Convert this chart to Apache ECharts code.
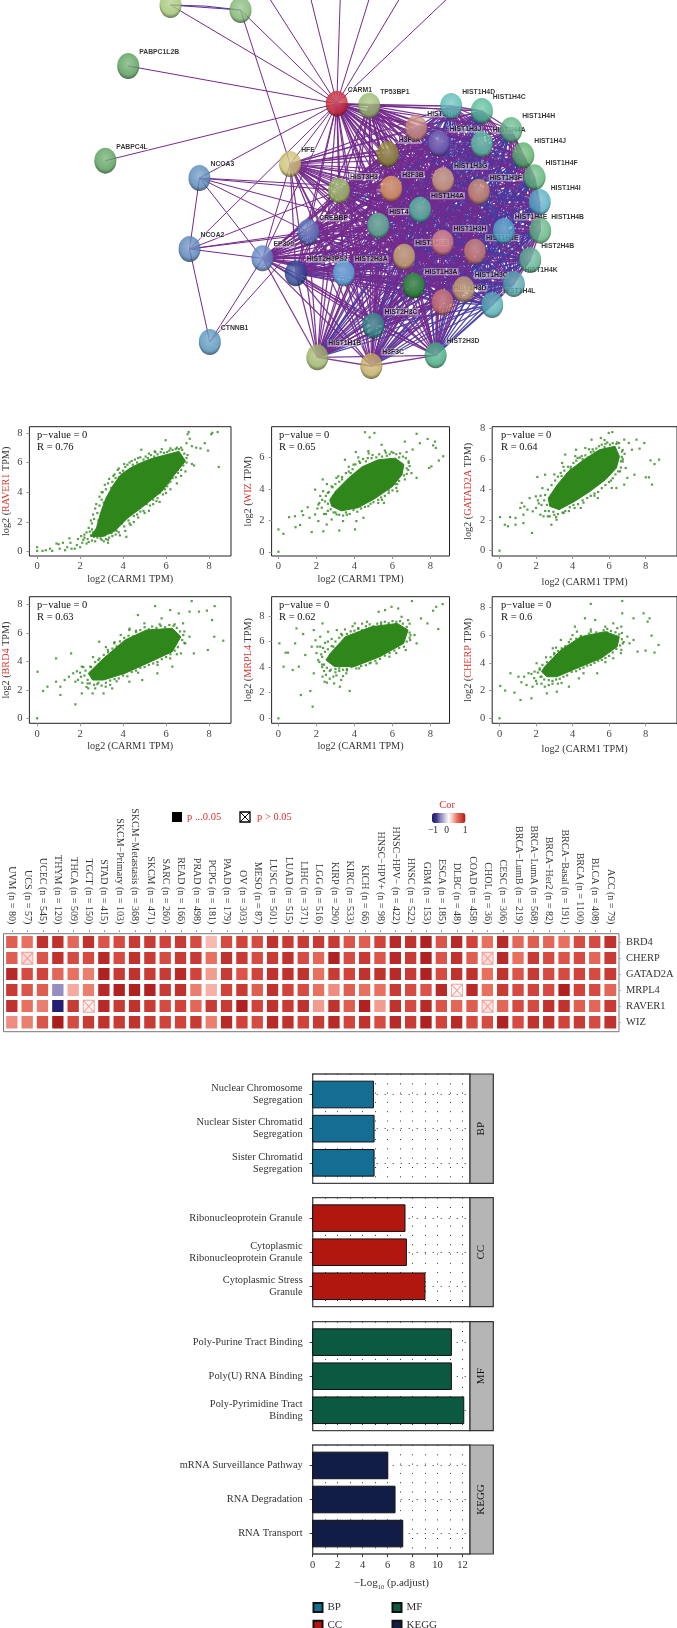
<!DOCTYPE html>
<html><head><meta charset="utf-8">
<script src="https://cdn.jsdelivr.net/npm/echarts@6/dist/echarts.min.js"></script>
<style>html,body{margin:0;padding:0;background:#fff}#c{width:677px;height:1628px}</style></head>
<body><div id="c"></div>
<script>
// ---------- NETWORK (node positions, in reference crop units) ----------
const netNodes = [
['',395,15,'#9cc26c'],['',557,30,'#79b26a'],['PABPC1L2B',297,198,'#4f9a52'],['PABPC4L',244,482,'#4f9a52'],
['CARM1',780,311,'#c8242f'],['TP53BP1',855,317,'#92b566'],['NCOA3',462,534,'#4f83b5'],['HFE',672,492,'#c9bd68'],
['NCOA2',439,747,'#4f7db5'],['EP300',608,775,'#5a7fbf'],['CTNNB1',486,1026,'#4c8db8'],['HIST2H3PS2',685,820,'#24408f'],
['HIST2H3A',796,820,'#5aaedb'],['CREBBP',714,696,'#5675b8'],['HIST3H3',785,572,'#98bc5a'],['H3F3A',898,463,'#8c8a2c'],
['HIST1H3I',964,384,'#c98a78'],['HIST1H3J',1016,430,'#6a5cb0'],['HIST1H4D',1045,318,'#4fb5ae'],['HIST1H4C',1116,333,'#48b58e'],
['HIST2H4A',1116,433,'#55c29c'],['HIST1H4H',1184,390,'#55ae80'],['HIST1H4J',1212,466,'#50ab60'],['HIST1H4F',1238,532,'#52b070'],
['HIST1H4I',1250,606,'#4aa8c0'],['HIST1H4B',1251,692,'#55b078'],['HIST1H4E',1167,693,'#4aa8c8'],['HIST2H4B',1228,780,'#55ad8a'],
['HIST1H4K',1190,852,'#4aa0a8'],['HIST1H4L',1140,915,'#48a8b0'],['HIST1H3G',1026,541,'#d0a078'],['H3F3B',906,566,'#dc9a58'],
['HIST1H3F',1109,575,'#c88a68'],['HIST1H4A',973,629,'#4fb898'],['HIST4',876,677,'#55b58c'],['HIST1H3H',1025,728,'#d88080'],
['HIST1H3B',936,770,'#c8a868'],['HIST1H3E',1100,755,'#c87a6a'],['HIST1H3A',958,857,'#1e8f2a'],['HIST1H3C',1074,868,'#c09a68'],
['HIST1H3D',1025,907,'#c87068'],['HIST2H3C',865,977,'#2a8a80'],['HIST2H3D',1009,1066,'#3aa57a'],['H3F3C',860,1098,'#bfa858'],
['HIST1H1B',735,1072,'#98b060']];
const offEdgeNodes = [['t1',625,-3],['t2',720,-3],['t3',788,-3],['t4',855,-3],['t5',925,-3],['t6',1035,-3]];
const nonHistone = ['','PABPC1L2B','PABPC4L','CARM1','TP53BP1','NCOA3','HFE','NCOA2','EP300','CTNNB1','CREBBP'];
const histHubs = ['CARM1','TP53BP1','HFE','EP300','CREBBP'];
const extraEdges = [['PABPC1L2B','CARM1'],['PABPC4L','CARM1'],['NCOA3','CARM1'],['NCOA3','EP300'],['NCOA3','CREBBP'],['NCOA3','HIST3H3'],
['NCOA3','H3F3B'],['NCOA3','HIST4'],['NCOA3','NCOA2'],['NCOA2','EP300'],['NCOA2','CARM1'],['NCOA2','CREBBP'],['NCOA2','CTNNB1'],['NCOA2','HIST3H3'],['NCOA2','HIST4'],
['CTNNB1','EP300'],['CTNNB1','CREBBP'],['HFE','CARM1'],['HFE','EP300'],['CARM1','TP53BP1'],['CARM1','CREBBP'],['CARM1','EP300'],['EP300','CREBBP'],
['t1','CARM1'],['t2','CARM1'],['t3','CARM1'],['t4','CARM1'],['t5','CARM1'],['t6','CARM1']];

// ---------- SCATTER PANELS. Each has a hand-read outline of the solid, saturated core and hand-read individual dots around it ----------
const xTicksScatter = [0,2,4,6,8];
const raver1Core = [[2.76,1.6],[2.95,2.6],[3.2,3.6],[3.55,4.5],[3.9,5.2],[4.35,5.65],[4.85,6.0],[5.4,6.3],[5.95,6.5],[6.6,6.75],[6.9,6.1],[6.4,5.2],[5.8,4.05],[4.85,2.95],[4.2,2.25],[3.6,1.37],[3.07,1.03],[2.5,1.03]];
const raver1Pts = [[7.05,8.05],[7,7.9],[7.1,7.6],[6.95,7.3],[7.2,7.1],[7.4,7],[7.6,6.95],[7.8,7.3],[7.95,6.8],[8.1,7.9],[8.15,8],[8.4,8.05],[8.45,5.7],[7,6.5],[7.2,5.9],[7.3,5.8],[6.9,5.4],[6.7,5.1],[6.5,4.6],[6.2,4.2],[6.2,5.2],[4.85,6.86],[5.98,7.5],[5.47,6.75],[0,0.3],[0,0.05],[0.25,0.05],[0.4,0.1],[0.6,0.2],[0.7,0.05],[0.9,0.55],[1,0.5],[1.05,0.2],[1.2,0.6],[1.3,0.1],[1.4,0.3],[1.5,0.9],[1.55,0.6],[1.6,0.2],[1.75,0.2],[1.85,0.45],[1.9,0.85],[2,0.3],[2.1,0.6],[2.15,0.8],[2.2,0.95],[2.3,0.55],[2.4,0.65],[2.5,1.1],[2.55,0.75],[2.6,1.3],[2.7,0.7],[2.8,0.95],[2.95,0.9],[3.1,0.7],[3.2,0.85],[3.35,0.95],[3.5,1.05],[3.7,1.4],[4.1,1.4],[4.15,1],[4.3,1.9],[4.7,2.3],[5,2.6],[5.4,3.2],[5.6,3.6],[6.1,4.6],[6.35,5.6],[2.8,2.6],[2.65,2.2],[2.4,1.6],[2.3,1.3],[2.9,3.1],[3,3.5],[3.2,4.2],[3.5,4.7],[3.75,5.5],[4.1,5.7],[4.4,6.1],[4.7,6.3],[5.2,6.6],[5.5,6.7],[5.8,6.9],[6.2,6.95],[6.5,7],[6.7,7],[3.3,0.6],[3.85,1.1],[4.5,2.0],[5.2,2.75],[5.7,3.35],[6.0,3.95],[6.55,5.3],[3.05,4],[3.55,5.1]];
const raver1Fringe = [[2.55,1.9],[2.6,2.5],[2.7,2.9],[2.75,3.2],[2.85,2.1],[2.9,3.7],[3,4],[3.1,3.3],[3.15,4.5],[3.3,4.6],[3.35,4.9],[3.45,4.3],[3.6,5.2],[3.65,4.95],[3.8,5.6],[3.85,5.3],[4,5.45],[4.05,5.9],[4.2,5.85],[4.3,6],[4.45,5.85],[4.55,6.2],[4.65,6],[4.8,6.35],[4.95,6.2],[5.05,6.4],[5.15,6.3],[5.3,6.5],[5.45,6.4],[5.6,6.55],[5.75,6.7],[5.9,6.65],[6.05,6.7],[6.15,6.8],[6.3,6.85],[6.45,6.9],[6.6,6.9],[6.75,6.85],[6.85,6.6],[6.95,6.3],[6.95,6],[6.8,5.8],[6.7,5.5],[6.55,5.5],[6.45,5],[6.3,4.95],[6.2,4.7],[6.05,4.4],[5.95,4.2],[5.85,3.85],[5.7,3.95],[5.55,3.4],[5.4,3.5],[5.25,3.1],[5.1,3.2],[4.95,2.75],[4.8,2.7],[4.65,2.5],[4.5,2.4],[4.35,1.8],[4.25,2.1],[4.05,1.7],[3.95,1.9],[3.8,1.3],[3.65,1.15],[3.45,1.25],[3.3,0.8],[3.15,1.1],[3,0.8],[2.85,1.15],[2.65,1],[2.45,1.35],[2.2,1.15],[2.05,1.05],[2.35,0.85],[2.55,1.5],[3.8,5],[2.5,2.1]];
const wizCore = [[2.7,3.3],[3,3.85],[3.7,4.7],[4.4,5.4],[5.25,5.85],[6.15,5.95],[6.6,5.55],[6.5,4.9],[6,4.15],[5.1,3.4],[4.2,2.8],[3.3,2.6],[2.8,2.9]];
const wizPts = [[0,0],[0,1.42],[0.26,1.14],[0.56,2.2],[0.87,2.26],[0.9,1.56],[1.14,1.7],[1.23,2.58],[1.3,2.33],[1.54,2.83],[1.63,2.16],[1.75,1.25],[1.93,3.95],[2.33,4.6],[2.1,1.95],[2.36,1.3],[1.93,2.37],[2.28,2.8],[2.54,1.73],[2.8,2.05],[3.06,2.37],[3.2,1.35],[3.4,1.95],[4.03,1.42],[4.1,1.95],[4.47,2.16],[2.6,3.74],[2.8,4.16],[3.15,4.8],[3.5,5.85],[3.95,5.54],[4.07,6.34],[4.55,7.6],[5.05,7.55],[4.8,7.27],[5.43,6.8],[4.73,6.4],[5.6,6.43],[6.05,6.28],[6.65,7],[6.74,6.34],[7.27,7.5],[7.06,6.5],[7.44,6.9],[7.85,7.17],[8.14,6.76],[8.28,6.6],[8.24,7],[8.67,6.07],[8.44,5.8],[8.05,5.43],[7.93,5.33],[7.27,4.7],[7,5],[6.83,5.2],[6.65,4.6],[6.2,4.06],[5.8,3.74],[5.25,3.1],[4.73,2.9],[5.43,5.54],[2.3,3.3],[2.1,3.0],[2.5,2.4],[2.9,2.5],[3.6,2.35],[3.35,4.6],[3.8,5.0],[4.3,5.65],[4.9,5.95],[5.7,6.1],[6.35,6.0],[6.85,5.65],[6.75,4.95],[6.25,4.3],[5.4,3.45]];
const wizFringe = [[2.45,3.2],[2.5,3.55],[2.6,3.05],[2.65,3.8],[2.75,2.7],[2.85,4.1],[3,2.5],[3,4.3],[3.2,2.35],[3.2,4.45],[3.35,4.75],[3.4,2.3],[3.55,2.5],[3.55,5],[3.7,5.1],[3.75,2.4],[3.9,5.25],[3.95,2.65],[4.05,5.55],[4.15,2.55],[4.25,5.75],[4.35,2.75],[4.45,5.9],[4.55,2.85],[4.6,5.75],[4.7,5.95],[4.85,3.05],[4.95,6.15],[5,3.15],[5.15,6],[5.25,3.3],[5.3,6.2],[5.45,6.05],[5.45,3.3],[5.6,3.55],[5.65,6.3],[5.8,3.9],[5.85,6.2],[5.95,6.35],[6,3.9],[6.15,4.3],[6.2,6.2],[6.35,4.5],[6.4,6.25],[6.55,6.05],[6.6,4.85],[6.7,5.95],[6.75,5.3],[6.85,5.75],[6.9,5.45],[2.2,3.55],[2.35,3.85],[2.55,4.3],[2.15,3.1],[2.05,2.75],[2.6,2.6],[2.4,2.4],[3.05,4.7],[3.7,5.4],[4.2,6],[4.75,6.25],[6.25,3.85],[5.55,3.1]];
const gatad2aCore = [[2.67,3.45],[3.17,4.33],[3.77,5.2],[4.62,5.97],[5.47,6.62],[6.32,6.85],[6.57,6.18],[6.4,5.42],[5.8,4.65],[4.96,3.89],[4.11,3.23],[3.26,2.69],[2.75,2.91]];
const gatad2aPts = [[0,0],[0.03,2.2],[0.29,1.7],[0.58,2.2],[0.88,2.14],[0.46,1.6],[0.88,1.7],[1.22,3.13],[1.14,2.8],[1.36,2.9],[1.31,2.36],[1.53,2.69],[1.31,1.81],[1.78,1.16],[1.65,3.45],[1.99,3.56],[2.07,4.83],[2.5,4.98],[1.82,2.58],[2.24,2.36],[2.41,2.25],[2.84,1.7],[3.12,2.03],[3.51,2.47],[2.75,2.25],[3.43,5.75],[4.19,6.62],[4.7,6.73],[5.04,7.28],[5.98,7.72],[6.18,7.78],[5.55,7.39],[6.83,7.28],[7.08,7.06],[7.5,7.28],[7.93,7.06],[7.67,6.69],[7.25,6.62],[8.27,5.92],[8.74,5.97],[8.49,5.68],[8.18,4.81],[8.01,4.81],[8.35,4.33],[7.39,4.98],[7,4.77],[6.83,4.33],[6.4,4.11],[6.15,4.11],[5.38,3.45],[4.45,2.8],[4.11,2.8],[3.6,6.3],[4.28,6.08],[6.91,5.42],[6.66,5.86],[2.3,3.0],[2.1,3.3],[2.5,2.6],[3,2.35],[3.8,2.6],[3.4,4.9],[3.9,5.5],[4.5,6.2],[5.1,6.65],[5.8,7.0],[6.45,7.1],[6.75,6.6],[6.75,6],[6.6,5.2],[6.1,4.6],[5.2,3.6],[4.6,3.15]];
const gatad2aFringe = [[2.45,3.3],[2.5,3.65],[2.6,3],[2.65,4],[2.7,2.6],[2.85,4.3],[2.95,2.55],[3.05,4.6],[3.2,2.4],[3.2,4.85],[3.35,5.1],[3.45,2.5],[3.55,5.25],[3.6,2.6],[3.75,5.5],[3.85,2.85],[3.9,5.35],[4.05,5.75],[4.05,3],[4.2,5.9],[4.3,3.05],[4.4,6.1],[4.55,6],[4.55,3.3],[4.7,6.25],[4.8,3.45],[4.85,6.1],[5,6.45],[5,3.6],[5.15,6.5],[5.2,3.75],[5.3,6.7],[5.4,3.85],[5.45,6.85],[5.6,6.95],[5.6,4.1],[5.75,6.8],[5.8,4.3],[5.9,7.1],[6,4.5],[6.05,6.95],[6.2,7.05],[6.2,4.75],[6.35,5],[6.4,7],[6.5,5.2],[6.55,6.75],[6.65,5.45],[6.7,6.5],[6.75,5.85],[6.7,6.15],[6.85,6.35],[2.15,3.1],[2.25,3.6],[2.0,2.8],[2.35,4.1],[2.65,2.25],[3.1,2.2],[3,5],[3.5,5.5],[4.15,6.2],[4.9,6.65],[5.75,7.25],[6.55,7.05]];
const brd4Core = [[2.38,3.16],[3.09,4.21],[4.09,5.5],[5.09,6.2],[6.29,6.32],[6.69,5.73],[6.29,4.68],[5.29,3.98],[4.09,3.16],[3.09,2.69],[2.58,2.69]];
const brd4Pts = [[0,0],[0.02,3.27],[0.28,1.92],[0.48,2.22],[0.88,4.21],[1.08,2.22],[1.08,1.64],[1.58,4.56],[1.68,3.16],[1.78,0.98],[1.48,2.92],[1.78,2.57],[2.04,2.92],[2.08,1.75],[2.38,2.1],[2.58,1.75],[3.09,1.75],[3.19,2.22],[3.49,2.1],[4.29,2.57],[4.89,2.69],[5.59,3.16],[6.29,3.63],[2.89,5.38],[3.59,5.26],[4.29,6.2],[4.69,7.25],[5.49,7.88],[6.19,7.6],[5.79,7.02],[6.59,7.37],[7.19,8.23],[7.09,7.49],[6.79,6.67],[7.53,7.49],[7.9,7.56],[8.26,7.88],[8.14,6.9],[8.24,5.73],[8.66,5.45],[7.94,4.8],[7.29,4.56],[7.09,5.73],[6.89,5.26],[6.69,4.56],[6.19,4.21],[3.29,3.86],[2.48,3.63],[0.88,2.57],[1.28,2.69],[2.08,3.63],[3.89,5.85],[4.99,6.67],[3.29,4.8],[2.1,2.5],[2.35,2.45],[2.8,2.4],[3.7,2.6],[4.7,3.2],[5.6,3.75],[6.5,4.5],[6.85,5.3],[6.85,6.1],[6.4,6.6],[5.7,6.6],[4.6,6.15],[3.6,5.35],[2.85,4.1]];
const brd4Fringe = [[2.2,3],[2.25,3.35],[2.35,2.7],[2.5,3.6],[2.45,2.45],[2.65,2.35],[2.7,3.95],[2.85,2.5],[2.9,4.2],[3,2.3],[3.1,4.45],[3.2,2.5],[3.3,4.65],[3.4,2.65],[3.5,4.9],[3.6,2.75],[3.7,5.05],[3.8,2.8],[3.85,5.4],[4,3],[4.05,5.65],[4.2,2.95],[4.25,5.8],[4.4,3.25],[4.45,5.75],[4.6,6.05],[4.6,3.35],[4.8,6.2],[4.8,3.55],[5,6.4],[5,3.6],[5.2,6.25],[5.2,3.75],[5.35,6.45],[5.4,3.85],[5.55,6.35],[5.6,3.95],[5.75,6.5],[5.8,4.15],[5.95,6.4],[6,4.3],[6.15,6.55],[6.2,4.5],[6.35,6.5],[6.4,4.75],[6.5,6.35],[6.55,5],[6.65,6.1],[6.75,5.5],[6.8,5.85],[2,3.2],[1.85,3.3],[1.9,2.7],[2.15,3.6],[2.3,2.2],[2.7,2.1],[3.4,2.35],[2.6,4.3],[3.2,5],[4.3,6.3]];
const mrpl4Core = [[2.73,5.08],[3.52,6.38],[4.89,7.16],[6.25,7.42],[6.82,6.9],[6.59,5.86],[5.34,4.82],[3.98,4.04],[2.95,4.04],[2.5,4.56]];
const mrpl4Pts = [[0,0],[0.05,5.86],[0.38,5.13],[0.5,5.13],[0.27,4.04],[0.88,5.86],[0.75,3.78],[1.18,1.82],[1.07,4.04],[1.41,4.95],[1.3,6.59],[0.95,7.03],[1.68,2.14],[1.8,0.91],[1.86,6.9],[2.2,6.38],[2.09,4.56],[1.86,3.52],[2.43,2.86],[2.55,2.79],[2.32,3.26],[2.89,3.26],[3.23,2.47],[2.93,2.73],[3.75,2.14],[3.57,3.52],[4.25,3.91],[5.16,4.3],[5.84,4.82],[6.7,5.34],[7.16,6.51],[7.27,5.86],[6.93,6.12],[3.07,6.9],[2.61,6.77],[4.02,7.42],[5.27,8.33],[5.95,8.72],[5.61,8.46],[6.3,8.59],[7.02,9.17],[7.5,7.81],[7.84,7.42],[8.14,8.41],[8.3,8.72],[8.64,8.93],[8.41,6.98],[6.82,7.68],[6.48,7.94],[4.66,7.55],[2.89,5.6],[1.75,5.6],[2.32,7.42],[2.3,4.2],[2.4,3.7],[2.7,3.7],[3,3.6],[3.4,3.3],[3.2,3.9],[3.6,3.75],[2.25,5],[2.2,5.6],[2.45,5.9],[2.8,6.2],[3.3,6.6],[4.2,7],[5.4,7.5],[6.9,7.4],[6.95,6.5],[6.2,5.1],[4.8,4.3]];
const mrpl4Fringe = [[2.4,4.2],[2.3,4.8],[2.45,5.2],[2.55,3.95],[2.6,5.4],[2.75,3.8],[2.8,5.65],[3,3.85],[3,6],[3.2,3.7],[3.2,6.3],[3.35,6.5],[3.4,3.8],[3.6,3.85],[3.6,6.6],[3.8,6.8],[3.85,4],[4,6.85],[4.1,3.9],[4.2,7.05],[4.35,4.1],[4.4,6.9],[4.6,4.15],[4.6,7.2],[4.8,7.35],[4.85,4.35],[5,7.2],[5.1,4.5],[5.2,7.4],[5.35,4.65],[5.4,7.35],[5.6,7.55],[5.6,4.9],[5.8,7.45],[5.85,5.1],[6,7.6],[6.1,5.3],[6.2,7.55],[6.35,5.5],[6.4,7.6],[6.55,7.4],[6.6,5.6],[6.75,7.15],[6.75,6],[6.9,6.7],[6.9,6.3],[2.15,4.4],[2.0,5.1],[2.05,5.6],[2.3,4],[2.5,3.4],[2.7,3.1],[3.05,3.35],[3.3,3],[2.6,6],[3.5,6.95],[4.4,7.4],[3.9,7.2],[2.35,5.5],[1.95,6.1]];
const cherpCore = [[2.48,3.73],[3.36,4.93],[4.46,5.89],[5.79,6.25],[6.56,5.89],[6.45,5.17],[5.57,4.33],[4.24,3.61],[3.14,3],[2.59,3],[2.3,3.37]];
const cherpPts = [[0,0],[0.04,2.33],[0.31,2],[0.82,1.85],[0.6,3.25],[1.04,3],[1.15,1.32],[1.48,2.4],[1.75,1.44],[1.59,3.25],[1.92,3.37],[2.25,3],[1.81,2.28],[2.48,2.28],[2.59,1.8],[3.14,1.92],[3.8,2.28],[4.35,2.88],[5.35,3.25],[6.23,4.33],[6.67,4.93],[7.34,5.65],[7.56,4.81],[8,4.88],[8.49,4.74],[8.71,5.29],[8.33,5.96],[8.11,6.97],[8.22,7.21],[7.89,7.57],[7.34,7.21],[6.72,7.57],[6.67,6.61],[6.72,8.46],[5,8.25],[4.68,7.21],[5.24,7.09],[4.24,6.25],[3.36,5.65],[2.92,5.05],[2.03,3.97],[6.23,6.85],[5.79,6.61],[7,5.89],[7.12,5.41],[3.14,4.45],[4.13,6.61],[1.2,2.6],[1.35,3],[2.0,2.7],[2.2,3.5],[2.9,2.5],[3.4,2.55],[4.6,3.25],[5.8,4.05],[6.65,4.7],[6.8,5.5],[6.7,6.15],[5.9,6.45],[5,6.25],[3.9,5.7],[3,4.7]];
const cherpFringe = [[2.1,3.3],[2.2,3.6],[2.3,3],[2.35,3.85],[2.45,2.8],[2.6,4.05],[2.7,2.75],[2.8,4.4],[2.9,2.7],[3,4.6],[3.1,2.8],[3.2,4.85],[3.3,2.85],[3.4,5.05],[3.5,3],[3.6,5.2],[3.7,3.1],[3.8,5.5],[3.95,3.35],[4,5.4],[4.2,5.75],[4.2,3.4],[4.4,3.55],[4.45,5.95],[4.6,3.65],[4.7,5.85],[4.8,3.8],[4.9,6.1],[5,3.85],[5.1,5.95],[5.2,4],[5.3,6.2],[5.4,4.15],[5.5,6.1],[5.6,4.2],[5.7,6.35],[5.8,4.35],[5.9,6.2],[6,4.5],[6.1,6.3],[6.2,4.75],[6.35,6.2],[6.4,5],[6.55,6.05],[6.6,5.25],[6.7,5.7],[6.75,5.4],[1.9,2.9],[1.75,3.2],[2.05,2.5],[2.3,2.5],[2.7,2.4],[3.2,2.5],[2.55,4.4],[3.1,5.1],[4,6],[5,6.4],[6.45,6.5]];
const scatterPanels = [
 {gene:'RAVER1',core:raver1Core,pts:raver1Pts.concat(raver1Fringe),r:'0.76',x:[29.4,231],y:[426.7,556],xr:[-0.36,9.02],yr:[-0.29,8.41],yTicks:[0,2,4,6,8],nx:18,ny:18},
 {gene:'WIZ',core:wizCore,pts:wizPts.concat(wizFringe),r:'0.65',x:[271.6,449.5],y:[426.7,556],xr:[-0.36,9],yr:[-0.27,7.95],yTicks:[0,2,4,6],nx:18,ny:18},
 {gene:'GATAD2A',core:gatad2aCore,pts:gatad2aPts.concat(gatad2aFringe),r:'0.64',x:[492.2,690],y:[426.7,556],xr:[-0.4,9.72],yr:[-0.35,8.13],yTicks:[0,2,4,6,8],nx:21,ny:19},
 {gene:'BRD4',core:brd4Core,pts:brd4Pts.concat(brd4Fringe),r:'0.63',x:[29.4,231],y:[596.7,723.3],xr:[-0.36,9.02],yr:[-0.35,8.54],yTicks:[0,2,4,6,8],nx:18,ny:18},
 {gene:'MRPL4',core:mrpl4Core,pts:mrpl4Pts.concat(mrpl4Fringe),r:'0.62',x:[271.6,449.5],y:[596.7,723.3],xr:[-0.36,9],yr:[-0.39,9.51],yTicks:[0,2,4,6,8],nx:18,ny:18},
 {gene:'CHERP',core:cherpCore,pts:cherpPts.concat(cherpFringe),r:'0.6',x:[492.2,690],y:[596.7,723.3],xr:[-0.4,9.72],yr:[-0.36,8.77],yTicks:[0,2,4,6,8],nx:21,ny:19}];

// ---------- HEATMAP ----------
const cancerTypes = ['UVM (n = 80)','UCS (n = 57)','UCEC (n = 545)','THYM (n = 120)','THCA (n = 509)','TGCT (n = 150)','STAD (n = 415)','SKCM−Primary (n = 103)','SKCM−Metastasis (n = 368)','SKCM (n = 471)','SARC (n = 260)','READ (n = 166)','PRAD (n = 498)','PCPG (n = 181)','PAAD (n = 179)','OV (n = 303)','MESO (n = 87)','LUSC (n = 501)','LUAD (n = 515)','LIHC (n = 371)','LGG (n = 516)','KIRP (n = 290)','KIRC (n = 533)','KICH (n = 66)','HNSC−HPV+ (n = 98)','HNSC−HPV− (n = 422)','HNSC (n = 522)','GBM (n = 153)','ESCA (n = 185)','DLBC (n = 48)','COAD (n = 458)','CHOL (n = 36)','CESC (n = 306)','BRCA−LumB (n = 219)','BRCA−LumA (n = 568)','BRCA−Her2 (n = 82)','BRCA−Basal (n = 191)','BRCA (n = 1100)','BLCA (n = 408)','ACC (n = 79)'];
const heatGenes = ['BRD4','CHERP','GATAD2A','MRPL4','RAVER1','WIZ'];
const corBRD4 = [.6,.5,.85,.85,.55,.85,.65,.7,.8,.8,.75,.8,.7,.25,.7,.75,.7,.85,.8,.8,.8,.8,.65,.6,.75,.9,.85,.95,.65,.9,.75,.5,.9,.55,.6,.55,.5,.7,.7,.85];
const corCHERP = [.6,.12,.65,.85,.7,.7,.9,.7,.85,.8,.7,.8,.8,.5,.85,.8,.7,.8,.85,.7,.55,.95,.7,.8,.65,.9,.8,.95,.65,.85,.6,.12,.9,.5,.8,.7,.65,.7,.55,.8];
const corGATAD2A = [.9,.7,.75,.55,.5,.45,.95,.8,.85,.8,.8,.9,.75,.35,.8,.65,.75,.85,.85,.85,.5,.8,.75,.85,.85,.9,.8,.95,.7,.85,.85,.5,.85,.65,.8,.7,.7,.75,.7,.8];
const corMRPL4 = [.8,.65,.6,-.45,.3,.45,.9,.95,.95,.95,.8,.85,.45,.28,.75,.8,.6,.85,.75,.7,.5,.4,.6,.5,.5,.8,.7,.65,.9,.03,.9,.5,.8,.7,.75,.7,.95,.75,.7,.55];
const corRAVER1 = [.85,.5,.45,-.95,.8,.05,.9,.8,.85,.8,.7,.75,.55,.8,.8,.95,.75,.85,.8,.85,.35,.85,.6,.95,.35,.85,.7,.9,.65,.55,.6,.1,.55,.7,.7,.85,.85,.6,.55,.8];
const corWIZ = [.4,.45,.65,.98,.7,.8,.85,.8,.85,.8,.75,.75,.8,.45,.9,.75,.7,.9,.85,.75,.8,.9,.75,.85,.7,.9,.8,.95,.75,.9,.7,.7,.95,.7,.85,.85,.75,.8,.7,.85];
const corRows = [corBRD4,corCHERP,corGATAD2A,corMRPL4,corRAVER1,corWIZ];
const notSignificant = [[1,1],[31,1],[29,3],[5,4],[31,4]];
const corStops = ['#1f1a6e','#3a3483','#8a80bc','#c5c0de','#ffffff','#f8b9b0','#e8705f','#d0423a','#a81a1b'];

// ---------- ENRICHMENT BARS ----------
const facets = [
 {name:'BP',color:'#146e94',terms:['Nuclear Chromosome\nSegregation','Nuclear Sister Chromatid\nSegregation','Sister Chromatid\nSegregation'],vals:[4.87,4.92,4.92],y:[1074,1183.3]},
 {name:'CC',color:'#b2170f',terms:['Ribonucleoprotein Granule','Cytoplasmic\nRibonucleoprotein Granule','Cytoplasmic Stress\nGranule'],vals:[7.4,7.51,9],y:[1197.7,1306.7]},
 {name:'MF',color:'#0a5940',terms:['Poly-Purine Tract Binding','Poly(U) RNA Binding','Poly-Pyrimidine Tract\nBinding'],vals:[11.12,11.12,12.11],y:[1321.7,1430.7]},
 {name:'KEGG',color:'#121d45',terms:['mRNA Surveillance Pathway','RNA Degradation','RNA Transport'],vals:[6.02,6.6,7.22],y:[1445,1554]}];
const barTicks = [0,2,4,6,8,10,12];

// ---------- BUILD ----------
const SERIF = '"Liberation Serif","DejaVu Serif",serif';
const SANS = '"Liberation Sans",Arial,sans-serif';
const grid=[],xAxis=[],yAxis=[],series=[],graphic=[];
function addGrid(g,x,y){grid.push(g);xAxis.push(Object.assign({gridIndex:grid.length-1},x));yAxis.push(Object.assign({gridIndex:grid.length-1},y));return grid.length-1;}
function shade(hex,f){const n=parseInt(hex.slice(1),16);const c=[n>>16,(n>>8)&255,n&255].map(v=>Math.round(f>0?v+(255-v)*f:v*(1+f)));return 'rgb('+c.join(',')+')';}
function txt(x,y,text,fill,size,extra){graphic.push({type:'text',x,y,silent:true,style:Object.assign({text,fill:fill||'#111',font:(size||10.5)+'px '+SERIF,align:'left',verticalAlign:'middle'},extra||{})});}
const noLine={show:false,onZero:false};

// network
const netIdx = addGrid({left:0,top:0,width:677,height:400,show:false},{type:'value',min:0,max:1568,show:false},{type:'value',min:0,max:1200,inverse:true,show:false});
const histones = netNodes.map(n=>n[0]).filter(n=>nonHistone.indexOf(n)<0);
const graphData = netNodes.map((n,i)=>({name:n[0]||('n'+i),value:[n[1],n[2]]})).concat(offEdgeNodes.map(n=>({name:n[0],value:[n[1],n[2]]})));
const links=[];
const PURPLE='#742a8c',BLUE='#43399f';
const family=n=>/H4/.test(n)?'4':'3';
histones.forEach((a,i)=>histones.forEach((b,j)=>{if(j>i)links.push({source:a,target:b,lineStyle:{color:family(a)===family(b)?PURPLE:BLUE,width:1.3,opacity:.92}});}));
histHubs.forEach(h=>histones.forEach(b=>links.push({source:h,target:b,lineStyle:{color:PURPLE,width:1.2,opacity:.95}})));
extraEdges.forEach(e=>links.push({source:e[0],target:e[1],lineStyle:{color:PURPLE,width:1,opacity:1}}));
links.push({source:'n0',target:'n1',lineStyle:{color:PURPLE,width:1,opacity:1}});
links.push({source:'n0',target:'n1',lineStyle:{color:BLUE,width:1,opacity:1,curveness:.04}});
links.push({source:'n0',target:'CARM1',lineStyle:{color:PURPLE,width:1,opacity:1}});
links.push({source:'n1',target:'CARM1',lineStyle:{color:PURPLE,width:1,opacity:1}});
links.push({source:'n1',target:'HFE',lineStyle:{color:PURPLE,width:1,opacity:1}});
series.push({type:'graph',coordinateSystem:'cartesian2d',xAxisIndex:netIdx,yAxisIndex:netIdx,layout:'none',z:1,silent:true,symbolSize:0,label:{show:false},data:graphData,links});
series.push({type:'scatter',xAxisIndex:netIdx,yAxisIndex:netIdx,z:2,silent:true,symbol:'circle',symbolSize:[22,26],
 data:netNodes.map(n=>({value:[n[1],n[2]],name:n[0]})),itemStyle:{color:'rgba(0,0,0,0)'},
 label:{show:true,position:'right',distance:0,offset:[-1,-14],formatter:p=>p.name,color:'#000',fontFamily:SANS,fontSize:6.8,fontWeight:'bold',backgroundColor:'rgba(255,255,255,.55)',padding:[0,1]}});
series.push({type:'scatter',xAxisIndex:netIdx,yAxisIndex:netIdx,z:3,silent:true,symbol:'circle',symbolSize:[22,26],
 data:netNodes.map(n=>({value:[n[1],n[2]],itemStyle:{color:{type:'radial',x:.5,y:.4,r:.62,colorStops:[{offset:0,color:shade(n[3],.28)},{offset:.72,color:n[3]},{offset:.92,color:shade(n[3],-.45)},{offset:1,color:shade(n[3],-.8)}]}}}))});

// scatter panels
scatterPanels.forEach(p=>{
 const g=addGrid({left:p.x[0],top:p.y[0],width:p.x[1]-p.x[0],height:p.y[1]-p.y[0],show:true,borderColor:'#222',borderWidth:1,backgroundColor:'#fff'},
  {type:'value',min:p.xr[0],max:p.xr[1],splitLine:{show:false},axisLine:noLine,
   axisTick:{show:true,length:3,lineStyle:{color:'#999'},customValues:xTicksScatter},
   axisLabel:{customValues:xTicksScatter,fontFamily:SERIF,fontSize:10.5,color:'#444',margin:5},
   name:'log2 (CARM1 TPM)',nameLocation:'middle',nameGap:p.nx,nameTextStyle:{fontFamily:SERIF,fontSize:10.2,color:'#333'}},
  {type:'value',min:p.yr[0],max:p.yr[1],splitLine:{show:false},axisLine:noLine,
   axisTick:{show:true,length:3,lineStyle:{color:'#999'},customValues:p.yTicks},
   axisLabel:{customValues:p.yTicks,fontFamily:SERIF,fontSize:10.5,color:'#444',margin:7},
   name:'log2 ({r|'+p.gene+'} TPM)',nameLocation:'middle',nameRotate:90,nameGap:p.ny,
   nameTextStyle:{fontFamily:SERIF,fontSize:10.2,color:'#333',rich:{r:{color:'#d9332b',fontFamily:SERIF,fontSize:10.2}}}});
 series.push({type:'custom',name:p.gene+' core',xAxisIndex:g,yAxisIndex:g,silent:true,z:3,data:p.core,encode:{x:0,y:1},
  renderItem:(ctx,api)=>{if(ctx.dataIndex!==0)return null;
   const pts=p.core.map(v=>api.coord(v));
   return {type:'polygon',shape:{points:pts},style:{fill:'#2f871c',stroke:'#2f871c',lineWidth:1}};}});
 series.push({type:'scatter',name:p.gene,xAxisIndex:g,yAxisIndex:g,silent:true,z:4,symbol:'rect',symbolSize:2.2,itemStyle:{color:'#2f871c'},data:p.pts});
 const tx=(p.x[0]+(p.x[0]<100?7.6:p.x[0]<400?7.4:8.8));
 txt(tx,p.y[0]+8.3,'p−value = 0');txt(tx,p.y[0]+21,'R = '+p.r);
});

// heatmap
const hm=addGrid({left:4.4,top:934.3,width:613.6,height:96,show:false},
 {type:'category',data:cancerTypes,position:'top',axisLine:noLine,splitLine:{show:false},axisTick:{show:true,alignWithLabel:true,length:4,lineStyle:{color:'#888'}},
  axisLabel:{interval:0,rotate:90,fontFamily:SERIF,fontSize:10,color:'#333',margin:10}},
 {type:'category',data:heatGenes,inverse:true,position:'right',axisLine:noLine,splitLine:{show:false},axisTick:{show:true,alignWithLabel:true,length:3,lineStyle:{color:'#888'}},
  axisLabel:{fontFamily:SERIF,fontSize:10.5,color:'#333',margin:8}});
const hmData=[];corRows.forEach((r,j)=>r.forEach((v,i)=>hmData.push([i,j,v])));
series.push({type:'heatmap',name:'Cor',xAxisIndex:hm,yAxisIndex:hm,silent:true,data:hmData,itemStyle:{borderColor:'#fff',borderWidth:4,borderRadius:2}});
const heatSeries=series.length-1;
series.push({type:'scatter',xAxisIndex:hm,yAxisIndex:hm,silent:true,z:5,symbol:'path://M0 0H10V10H0Z M0 0L10 10 M10 0L0 10',symbolSize:[11,12],data:notSignificant,
 itemStyle:{color:'rgba(0,0,0,0)',borderColor:'#f08a80',borderWidth:1}});
graphic.push({type:'rect',silent:true,z:100,shape:{x:3.5,y:933.7,width:615.5,height:98},style:{fill:'rgba(0,0,0,0)',stroke:'#777',lineWidth:1}});
// heatmap legends
graphic.push({type:'rect',silent:true,shape:{x:172,y:812,width:10,height:10},style:{fill:'#000'}});
txt(187,817.7,'p ...0.05','#d9332b',10.5);
graphic.push({type:'rect',silent:true,shape:{x:240,y:812,width:10,height:10},style:{fill:'#fff',stroke:'#000',lineWidth:1.3}});
graphic.push({type:'line',silent:true,shape:{x1:240,y1:812,x2:250,y2:822},style:{stroke:'#000',lineWidth:1}});
graphic.push({type:'line',silent:true,shape:{x1:250,y1:812,x2:240,y2:822},style:{stroke:'#000',lineWidth:1}});
txt(257,817.7,'p > 0.05','#d9332b',10.5);
txt(447,805.7,'Cor','#d9332b',10.5,{align:'center'});
txt(433,830,'−1','#222',9.5,{align:'center'});txt(446.5,830,'0','#222',9.5,{align:'center'});txt(465,830,'1','#222',9.5,{align:'center'});

// bars
facets.forEach((f,k)=>{
 const last=k===facets.length-1;
 const g=addGrid({left:312.7,top:f.y[0],width:157.3,height:f.y[1]-f.y[0],show:true,borderColor:'#444',borderWidth:1.3,backgroundColor:'#fff'},
  {type:'value',min:0,max:12.61,interval:2,
   splitLine:{show:true,lineStyle:{color:'#333',width:1,type:[1,8.3]}},
   minorTick:{show:false,splitNumber:2},minorSplitLine:{show:true,lineStyle:{color:'#333',width:1,type:[1,8.3]}},
   axisLine:noLine,axisTick:{show:last,length:3,lineStyle:{color:'#333'},customValues:barTicks},
   axisLabel:{show:last,customValues:barTicks,fontFamily:SERIF,fontSize:10.5,color:'#333',margin:6},
   name:last?'−Log{s|10} (p.adjust)':'',nameLocation:'middle',nameGap:22,
   nameTextStyle:{fontFamily:SERIF,fontSize:11,color:'#333',rich:{s:{fontSize:6.5,verticalAlign:'bottom',padding:[8,0,0,0],fontFamily:SERIF,color:'#333'}}}},
  {type:'value',min:-0.6,max:2.6,inverse:true,
   splitLine:{show:true,lineStyle:{color:'#333',width:1,type:[1,7]}},axisLine:noLine,
   axisTick:{show:true,length:3,lineStyle:{color:'#333'},customValues:[0,1,2]},
   axisLabel:{customValues:[0,1,2],formatter:v=>f.terms[Math.round(v)],fontFamily:SERIF,fontSize:10.4,lineHeight:12,color:'#333',margin:10,align:'right'}});
 series.push({type:'custom',name:f.name,xAxisIndex:g,yAxisIndex:g,silent:true,z:3,itemStyle:{color:f.color,borderColor:'#111',borderWidth:1},
  data:f.vals.map((v,i)=>[v,i]),encode:{x:0,y:1},
  renderItem:(ctx,api)=>{const a=api.coord([0,api.value(1)]),b=api.coord([api.value(0),api.value(1)]),h=api.size([0,.78])[1];
   return {type:'rect',shape:{x:a[0],y:a[1]-h/2,width:b[0]-a[0],height:h},style:{fill:f.color,stroke:'#111',lineWidth:1}};}});
 graphic.push({type:'rect',silent:true,shape:{x:470,y:f.y[0],width:23.3,height:f.y[1]-f.y[0]},style:{fill:'#b5b5b5',stroke:'#333',lineWidth:1.2}});
 txt(481.6,(f.y[0]+f.y[1])/2,f.name,'#111',11,{align:'center',verticalAlign:'middle'});
 graphic[graphic.length-1].rotation=Math.PI/2;
});

const chart=echarts.init(document.getElementById('c'),null,{renderer:'canvas',width:677,height:1628});
chart.setOption({animation:false,backgroundColor:'#fff',textStyle:{fontFamily:SERIF},tooltip:{show:false},grid,xAxis,yAxis,series,graphic:{elements:graphic},
 visualMap:[{type:'continuous',seriesIndex:heatSeries,min:-1,max:1,orient:'horizontal',left:432,top:813,itemWidth:10,itemHeight:33.5,padding:0,text:null,showLabel:false,calculable:false,hoverLink:false,inRange:{color:corStops},textStyle:{fontSize:1,color:'rgba(0,0,0,0)'},formatter:()=>''}],
 legend:[{data:['BP','CC'],left:312.5,top:1602,height:45,orient:'vertical',padding:0,itemWidth:9,itemHeight:9,itemGap:6.7,icon:'rect',textStyle:{fontFamily:SERIF,fontSize:11,color:'#333'},selectedMode:false},
         {data:['MF','KEGG'],left:391.5,top:1602,height:45,orient:'vertical',padding:0,itemWidth:9,itemHeight:9,itemGap:6.7,icon:'rect',textStyle:{fontFamily:SERIF,fontSize:11,color:'#333'},selectedMode:false}]});
</script></body></html>
